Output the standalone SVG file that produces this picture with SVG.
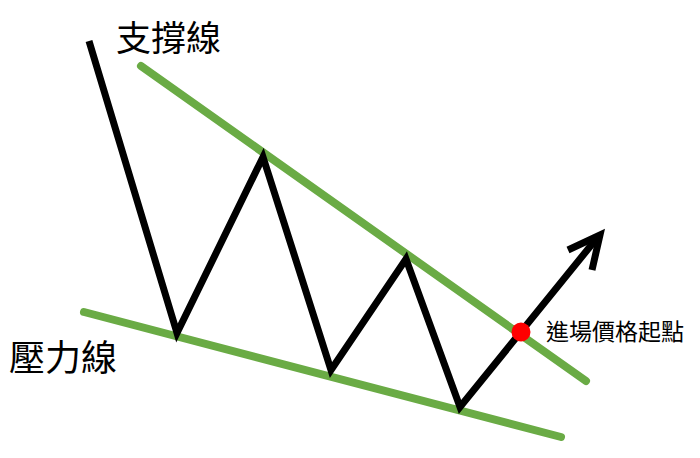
<svg xmlns="http://www.w3.org/2000/svg" width="700" height="458" viewBox="0 0 700 458">
<style>
.g{stroke:#6aab45;stroke-width:8;stroke-linecap:round;fill:none}
.k{stroke:#000;stroke-width:7;stroke-linejoin:miter;stroke-linecap:butt;fill:none}
.t{font-family:"Noto Sans CJK TC","Noto Sans CJK SC",sans-serif;fill:#000}
</style>
<rect width="700" height="458" fill="#fff"/>
<g id="connectors">
<line id="upper-line" class="g" x1="141" y1="66" x2="586" y2="381"/>
<line id="lower-line" class="g" x1="84" y1="312" x2="561" y2="437"/>
<polyline id="price" class="k" points="89,41 177,333 263,157 331,370 406,259 460,407 597,238"/>
<polyline id="arrowhead" class="k" points="568,250 600,235 592,270"/>
</g>
<g id="entry-point"><circle cx="521" cy="332" r="9.5" fill="#f00"/></g>
<g id="label-support"><text class="t" x="116" y="51" font-size="35">支撐線</text></g>
<g id="label-resistance"><text class="t" x="9" y="371" font-size="36">壓力線</text></g>
<g id="label-entry"><text class="t" x="546" y="340" font-size="23">進場價格起點</text></g>
</svg>
